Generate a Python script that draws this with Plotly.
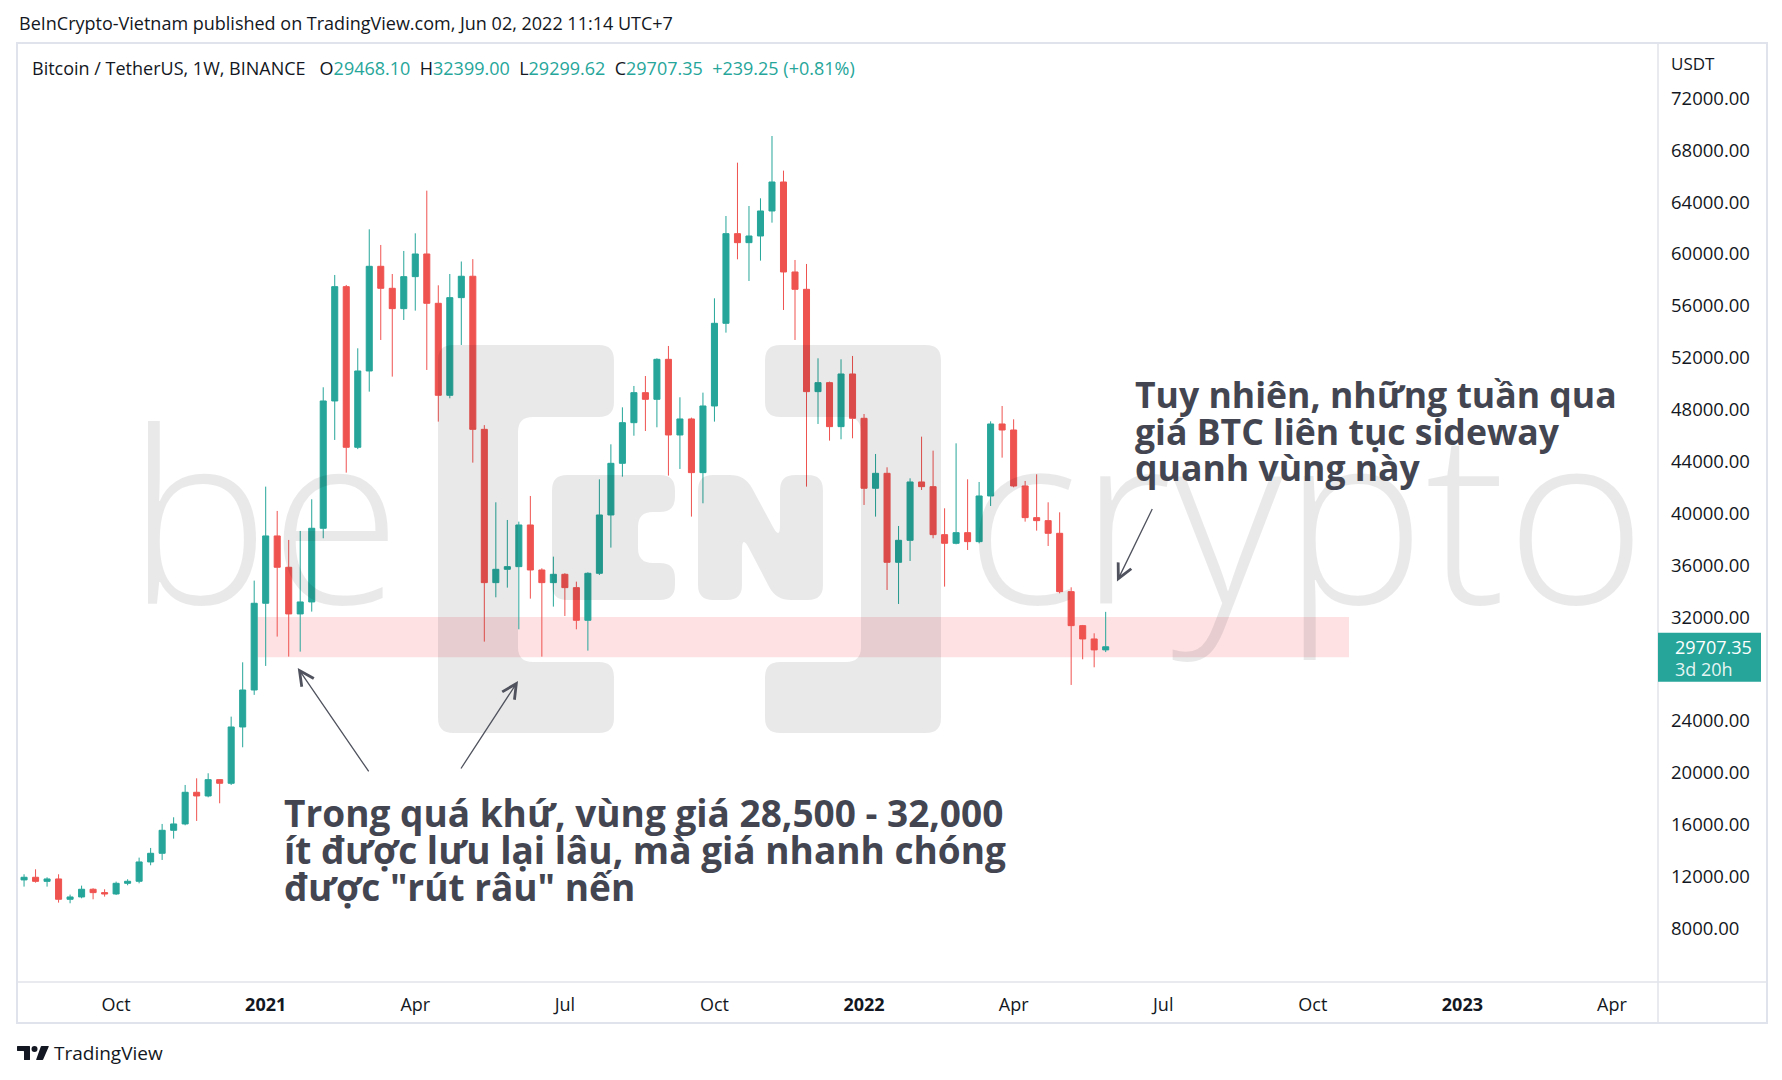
import plotly.graph_objects as go
import pandas as pd

# ---------------- data (BTC/USDT weekly, Binance) ----------------
FIRST_WEEK = "2020-08-10"

opens = [11730, 11934, 11620, 11806, 10237, 10417, 11010, 10751, 10648, 11470,
         11626, 13116, 13784, 15557, 16046, 18487, 18204, 19463, 19181, 23524,
         26376, 33062, 38254, 35838, 32240, 33165, 38845, 48662, 57477, 45090,
         50975, 59045, 57349, 55781, 58248, 59996, 56192, 49099, 56629, 58278,
         46475, 34653, 35681, 35887, 39100, 35630, 34653, 35296, 34268, 31749,
         35373, 39870, 43854, 46989, 49303, 48789, 51873, 46040, 47274, 43136,
         48276, 54650, 61563, 60869, 61383, 63311, 65547, 58608, 57271, 49381,
         50075, 46683, 50743, 47325, 41929, 43083, 36221, 37917, 42415, 42055,
         38354, 37686, 38508, 37815, 41335, 46887, 46424, 42106, 39665, 39434,
         38457, 33959, 31338, 30310, 29468.10]

highs = [12165, 12550, 11934, 12165, 10597, 11290, 11087, 11010, 11600, 11780,
         13450, 14195, 16046, 16560, 19052, 19566, 19952, 19480, 24321, 28509,
         34810, 42057, 40181, 37945, 38640, 41081, 49716, 58376, 57606, 52723,
         61898, 60690, 58453, 60227, 61589, 64879, 57580, 58453, 59415, 59600,
         46800, 40847, 39485, 39357, 41336, 35759, 36658, 35380, 34730, 35450,
         42620, 45319, 48171, 49817, 50587, 51950, 52902, 48944, 47376, 49304,
         56578, 62925, 67037, 63696, 64288, 69093, 66421, 59533, 59225, 51951,
         50152, 51874, 52131, 47659, 44574, 43546, 39022, 42697, 45910, 44831,
         40385, 45396, 42620, 42415, 47092, 48274, 47247, 42492, 43006, 40847,
         40076, 34293, 31390, 30747, 32399.00]

lows = [11214, 11520, 11214, 9980, 9930, 10314, 10237, 10443, 10571, 11317,
        11470, 12859, 13270, 14914, 15943, 16277, 18101, 17640, 19052, 21957,
        26000, 28230, 30492, 28950, 29335, 32420, 38074, 45655, 43137, 44950,
        49382, 53365, 50539, 54907, 55627, 51052, 47069, 48868, 52978, 43906,
        30105, 33522, 34268, 31055, 33420, 28948, 32803, 32083, 31055, 29410,
        35245, 37352, 42826, 45983, 46347, 46630, 42905, 43419, 39744, 40772,
        47068, 53930, 59584, 57914, 59481, 62411, 55678, 53365, 42057, 46888,
        45604, 45707, 45784, 40644, 39742, 34088, 33009, 36324, 41798, 38071,
        34345, 37609, 37172, 37686, 40564, 44291, 42003, 39357, 38662, 37480,
        33830, 26764, 28743, 28126, 29299.62]

closes = [11934, 11620, 11806, 10237, 10417, 11010, 10751, 10648, 11470, 11626,
          13116, 13784, 15557, 16046, 18487, 18204, 19463, 19181, 23524, 26376,
          33062, 38254, 35838, 32240, 33165, 38845, 48662, 57477, 45090, 50975,
          59045, 57349, 55781, 58248, 59996, 56192, 49099, 56629, 58278, 46475,
          34653, 35681, 35887, 39100, 35630, 34653, 35296, 34268, 31749, 35373,
          39870, 43854, 46989, 49303, 48789, 51873, 46040, 47274, 43136, 48276,
          54650, 61563, 60869, 61383, 63311, 65547, 58608, 57271, 49381, 50075,
          46683, 50743, 47325, 41929, 43083, 36221, 37917, 42415, 42055, 38354,
          37686, 38508, 37815, 41335, 46887, 46424, 42106, 39665, 39434, 38457,
          33959, 31338, 30310, 29468.10, 29707.35]

x_tick_dates = ["2020-10-05", "2021-01-04", "2021-04-05", "2021-07-05", "2021-10-04",
                "2022-01-03", "2022-04-04", "2022-07-04", "2022-10-03", "2023-01-02",
                "2023-04-03"]
x_tick_labels = ["Oct", "<b>2021</b>", "Apr", "Jul", "Oct", "<b>2022</b>", "Apr", "Jul",
                 "Oct", "<b>2023</b>", "Apr"]

y_tick_values = [8000, 12000, 16000, 20000, 24000, 32000, 36000, 40000, 44000,
                 48000, 52000, 56000, 60000, 64000, 68000, 72000]
y_tick_labels = ["8000.00", "12000.00", "16000.00", "20000.00", "24000.00", "32000.00",
                 "36000.00", "40000.00", "44000.00", "48000.00", "52000.00", "56000.00",
                 "60000.00", "64000.00", "68000.00", "72000.00"]

# support zone drawing (price band and time span)
zone_low, zone_high = 28900, 32000
zone_start, zone_end = "2020-12-30", "2022-10-25"

# arrow drawings: head (date, price), tail offset in pixels
arrows = [("2021-01-23 12:00", 28072, 72, 105),
          ("2021-06-06 12:00", 27070, -58, 89),
          ("2022-06-05 21:00", 34742, 36, -74)]

note_left = ["Trong quá khứ, vùng giá 28,500 - 32,000",
             "ít được lưu lại lâu, mà giá nhanh chóng",
             "được \"rút râu\" nến"]
note_right = ["Tuy nhiên, những tuần qua",
              "giá BTC liên tục sideway",
              "quanh vùng này"]

weeks = pd.date_range(FIRST_WEEK, periods=len(closes), freq="7D")

# ---------------- layout geometry ----------------
W, H = 1782, 1080
PL, PR, PT, PB = 17, 1658, 43, 982
X_RANGE = ["2020-08-05 17:00", "2023-05-01 00:00"]
Y_RANGE = [3859, 76264]

UP, DOWN = "#26a69a", "#ef5350"
TXT = "#131722"
UI_FONT = "Open Sans"
WM = "rgba(0,0,0,0.085)"


def px(x):
    return (x - PL) / (PR - PL)


def py(y):
    return (PB - y) / (PB - PT)


def price_to_px(p):
    return PB - (p - Y_RANGE[0]) / (Y_RANGE[1] - Y_RANGE[0]) * (PB - PT)


def rounded_path(pts, r):
    n = len(pts)

    def toward(a, b, d):
        dx, dy = b[0] - a[0], b[1] - a[1]
        L = (dx * dx + dy * dy) ** 0.5
        d = min(d, L / 2)
        return (a[0] + dx / L * d, a[1] + dy / L * d)

    parts = []
    for i in range(n):
        p0, p1, p2 = pts[i - 1], pts[i], pts[(i + 1) % n]
        a = toward(p1, p0, r)
        b = toward(p1, p2, r)
        parts.append((a, p1, b))
    s = "M%.5f,%.5f" % (px(parts[0][0][0]), py(parts[0][0][1]))
    for a, c, b in parts:
        s += " L%.5f,%.5f Q%.5f,%.5f %.5f,%.5f" % (px(a[0]), py(a[1]), px(c[0]), py(c[1]),
                                                    px(b[0]), py(b[1]))
    return s + " Z"


def ann(text, x, y, size, color=TXT, family=UI_FONT, weight="normal",
        xanchor="left", yanchor="middle"):
    return dict(text=text, x=px(x), y=py(y), xref="paper", yref="paper",
                showarrow=False, xanchor=xanchor, yanchor=yanchor,
                font=dict(size=size, color=color, family=family, weight=weight))


fig = go.Figure()
fig.add_trace(go.Candlestick(
    x=weeks, open=opens, high=highs, low=lows, close=closes,
    increasing=dict(line=dict(color=UP, width=1), fillcolor=UP),
    decreasing=dict(line=dict(color=DOWN, width=1), fillcolor=DOWN),
    whiskerwidth=0, showlegend=False, hoverinfo="skip"))

shapes = []
# support zone
shapes.append(dict(type="rect", xref="x", yref="y", x0=zone_start, x1=zone_end,
                   y0=zone_low, y1=zone_high, fillcolor="rgba(242,54,69,0.15)",
                   line=dict(width=0), layer="below"))

# watermark logo pieces (bracketed "IN")
logo_parts = [
    [(438, 345), (614, 345), (614, 417), (518, 417), (518, 662), (614, 662), (614, 733), (438, 733)],
    [(765, 345), (941, 345), (941, 733), (765, 733), (765, 662), (861, 662), (861, 417), (765, 417)],
    [(552, 475), (675, 475), (675, 512), (638, 512), (638, 563), (675, 563), (675, 600), (552, 600)],
    [(698, 475), (745, 475), (780, 540), (780, 475), (823, 475), (823, 600), (776, 600),
     (742, 535), (742, 600), (698, 600)],
]
for pts in logo_parts:
    shapes.append(dict(type="path", xref="paper", yref="paper", path=rounded_path(pts, 15),
                       fillcolor=WM, line=dict(width=0), layer="above"))

# frame
FR = "#e0e3eb"
shapes.append(dict(type="rect", xref="paper", yref="paper", x0=px(17), x1=px(1767),
                   y0=py(43), y1=py(1023), line=dict(color=FR, width=2), fillcolor="rgba(0,0,0,0)",
                   layer="above"))
shapes.append(dict(type="line", xref="paper", yref="paper", x0=px(PR), x1=px(PR),
                   y0=py(43), y1=py(1023), line=dict(color=FR, width=1.5), layer="above"))
shapes.append(dict(type="line", xref="paper", yref="paper", x0=px(17), x1=px(1767),
                   y0=py(PB), y1=py(PB), line=dict(color=FR, width=1.5), layer="above"))

# last price box
lp = price_to_px(closes[-1])
shapes.append(dict(type="rect", xref="paper", yref="paper", x0=px(PR), x1=px(1761),
                   y0=py(lp - 14), y1=py(lp + 35), fillcolor=UP, line=dict(width=0),
                   layer="above"))

# TradingView footer logo
shapes.append(dict(type="path", xref="paper", yref="paper",
                   path=rounded_path([(17, 1046), (30, 1046), (30, 1060), (24, 1060), (24, 1051), (17, 1051)], 0.5),
                   fillcolor=TXT, line=dict(width=0)))
shapes.append(dict(type="circle", xref="paper", yref="paper", x0=px(31.5), x1=px(37.5),
                   y0=py(1052), y1=py(1046), fillcolor=TXT, line=dict(width=0)))
shapes.append(dict(type="path", xref="paper", yref="paper",
                   path=rounded_path([(41, 1046), (49, 1046), (43, 1060), (36, 1060)], 0.5),
                   fillcolor=TXT, line=dict(width=0)))

annotations = []
# watermark words
annotations.append(ann("be", 125, 510, 240, color=WM, family="Open Sans", weight=300))
annotations.append(ann("crypto", 963, 510, 240, color=WM, family="Open Sans", weight=300))

# header and legend
annotations.append(ann("BeInCrypto-Vietnam published on TradingView.com, Jun 02, 2022 11:14 UTC+7",
                       17, 23, 18))
sp1 = "\u00a0\u00a0\u00a0"
sp = "\u00a0\u00a0"
chg = closes[-1] - closes[-2]
pct = chg / closes[-2] * 100
val = lambda v: "<span style='color:%s'>%s</span>" % (UP, v)
legend = ("Bitcoin / TetherUS, 1W, BINANCE" + sp1 +
          "O" + val("%.2f" % opens[-1]) + sp +
          "H" + val("%.2f" % highs[-1]) + sp +
          "L" + val("%.2f" % lows[-1]) + sp +
          "C" + val("%.2f" % closes[-1]) + sp +
          val("%+.2f (%+.2f%%)" % (chg, pct)))
annotations.append(ann(legend, 30, 68, 18))
annotations.append(ann("USDT", 1669, 64, 17))

# last price label
annotations.append(ann("%.2f" % closes[-1], 1673, lp, 18, color="#ffffff"))
annotations.append(ann("3d 20h", 1673, lp + 22, 18, color="rgba(255,255,255,0.9)"))

# footer
annotations.append(ann("TradingView", 52, 1053, 19))

# notes
NOTE = "#434651"
for i, line in enumerate(note_left):
    annotations.append(ann(line, 282, 812 + 37 * i, 37, color=NOTE, family="Open Sans",
                           weight="bold"))
for i, line in enumerate(note_right):
    annotations.append(ann(line, 1133, 394 + 36.5 * i, 35.6, color=NOTE, family="Open Sans",
                           weight="bold"))

# arrows
for hx, hy, dx, dy in arrows:
    annotations.append(dict(x=hx, y=hy, xref="x", yref="y", ax=dx, ay=dy, text="",
                            showarrow=True, arrowhead=5, arrowsize=2.2, arrowwidth=1.3,
                            arrowcolor="#50535e", standoff=0, startstandoff=0))

fig.update_layout(
    width=W, height=H, autosize=False,
    margin=dict(l=PL, r=W - PR, t=PT, b=H - PB, pad=0),
    paper_bgcolor="#ffffff", plot_bgcolor="#ffffff",
    shapes=shapes, annotations=annotations,
    showlegend=False, hovermode=False, boxgap=0.25,
    font=dict(family=UI_FONT, color=TXT, size=18),
    xaxis=dict(type="date", range=X_RANGE, rangeslider=dict(visible=False),
               tickmode="array", tickvals=x_tick_dates, ticktext=x_tick_labels,
               showgrid=False, zeroline=False, showline=False, ticks="",
               tickfont=dict(size=18, color=TXT, family=UI_FONT), ticklabelstandoff=10,
               fixedrange=True),
    yaxis=dict(side="right", range=Y_RANGE, tickmode="array", tickvals=y_tick_values,
               ticktext=y_tick_labels, showgrid=False, zeroline=False, showline=False,
               ticks="", tickfont=dict(size=18.5, color=TXT, family=UI_FONT),
               ticklabelstandoff=12, fixedrange=True),
)

fig.write_html("out.html", config={"displayModeBar": False, "staticPlot": True},
               post_script="document.body.style.margin='0px';document.body.style.overflow='hidden';")
